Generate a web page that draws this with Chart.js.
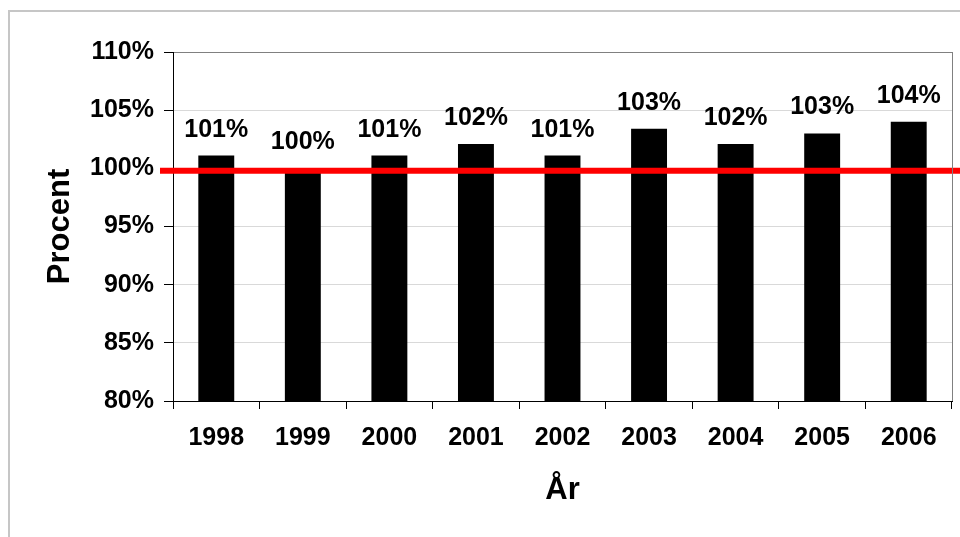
<!DOCTYPE html>
<html>
<head>
<meta charset="utf-8">
<script src="https://cdn.jsdelivr.net/npm/chart.js@4/dist/chart.umd.min.js"></script>
<style>
  html, body { margin: 0; padding: 0; background: #ffffff; }
  #wrap { position: relative; width: 960px; height: 537px; }
</style>
</head>
<body>
<div id="wrap"><canvas id="c" width="960" height="537"></canvas></div>
<script>
const years = ['1998', '1999', '2000', '2001', '2002', '2003', '2004', '2005', '2006'];
const percentValues = [101.1, 100.0, 101.1, 102.1, 101.1, 103.4, 102.1, 103.0, 104.0];
const referenceLevel = 99.8;
const yTickMin = 80;
const yTickMax = 110;
const yTickStep = 5;
const yTitle = 'Procent';
const xTitle = 'År';

const FONT = '"Liberation Sans", Arial, Helvetica, sans-serif';

const framePlugin = {
  id: 'frame',
  beforeDraw(chart) {
    const ctx = chart.ctx;
    ctx.save();
    ctx.fillStyle = '#ffffff';
    ctx.fillRect(0, 0, chart.width, chart.height);
    ctx.strokeStyle = '#c6c6c6';
    ctx.lineWidth = 2;
    ctx.beginPath();
    ctx.moveTo(9, chart.height + 5);
    ctx.lineTo(9, 11);
    ctx.lineTo(chart.width + 5, 11);
    ctx.stroke();
    ctx.restore();
  },
  afterDraw(chart) {
    const ctx = chart.ctx;
    const a = chart.chartArea;
    ctx.save();
    ctx.strokeStyle = '#808080';
    ctx.lineWidth = 1;
    ctx.beginPath();
    ctx.moveTo(Math.round(a.right) + 0.5, a.top);
    ctx.lineTo(Math.round(a.right) + 0.5, a.bottom);
    ctx.stroke();
    ctx.restore();
  },
  afterDatasetsDraw(chart) {
    const ctx = chart.ctx;
    const y = chart.scales.y.getPixelForValue(referenceLevel);
    const a = chart.chartArea;
    ctx.save();
    ctx.strokeStyle = '#ff0000';
    ctx.lineWidth = 6;
    ctx.beginPath();
    ctx.moveTo(a.left - 13, y);
    ctx.lineTo(chart.width, y);
    ctx.stroke();
    // value labels
    ctx.fillStyle = '#000000';
    ctx.font = 'bold 25px ' + FONT;
    ctx.textAlign = 'center';
    ctx.textBaseline = 'alphabetic';
    const meta = chart.getDatasetMeta(0);
    meta.data.forEach((bar, i) => {
      const v = chart.data.datasets[0].data[i];
      ctx.fillText(Math.round(v) + '%', bar.x, bar.y - 19);
    });
    ctx.restore();
  }
};

new Chart(document.getElementById('c'), {
  type: 'bar',
  data: {
    labels: years,
    datasets: [{
      data: percentValues,
      backgroundColor: '#000000',
      borderWidth: 0,
      categoryPercentage: 1.0,
      barPercentage: 0.415
    }]
  },
  options: {
    responsive: false,
    animation: false,
    devicePixelRatio: 1,
    layout: { padding: { left: 0, top: 52, right: 8, bottom: 0 } },
    plugins: {
      legend: { display: false },
      tooltip: { enabled: false }
    },
    scales: {
      x: {
        afterFit(scale) { scale.height = 136; },
        grid: {
          offset: true,
          drawOnChartArea: false,
          drawTicks: true,
          tickLength: 8,
          tickColor: '#000000'
        },
        border: { color: '#000000', width: 1 },
        ticks: {
          color: '#000000',
          font: { family: FONT, size: 25, weight: 'bold' },
          padding: 14,
          maxRotation: 0,
          autoSkip: false
        },
        title: {
          display: true,
          text: xTitle,
          color: '#000000',
          font: { family: FONT, size: 31, weight: 'bold', lineHeight: 1.2 },
          padding: { top: 0, bottom: 28 }
        }
      },
      y: {
        min: yTickMin,
        max: yTickMax,
        afterFit(scale) { scale.width = 173; },
        grid: {
          color: (ctx) => (ctx.tick && ctx.tick.value === yTickMax) ? '#808080' : '#d9d9d9',
          drawTicks: true,
          tickLength: 9,
          tickColor: '#000000'
        },
        border: { color: '#000000', width: 1 },
        ticks: {
          stepSize: yTickStep,
          color: '#000000',
          font: { family: FONT, size: 25, weight: 'bold' },
          padding: 10,
          callback: (v) => v + '%'
        },
        title: {
          display: true,
          text: yTitle,
          color: '#000000',
          font: { family: FONT, size: 31, weight: 'bold', lineHeight: 1.2 },
          padding: { top: 42, bottom: 0 }
        }
      }
    }
  },
  plugins: [framePlugin]
});
</script>
</body>
</html>
